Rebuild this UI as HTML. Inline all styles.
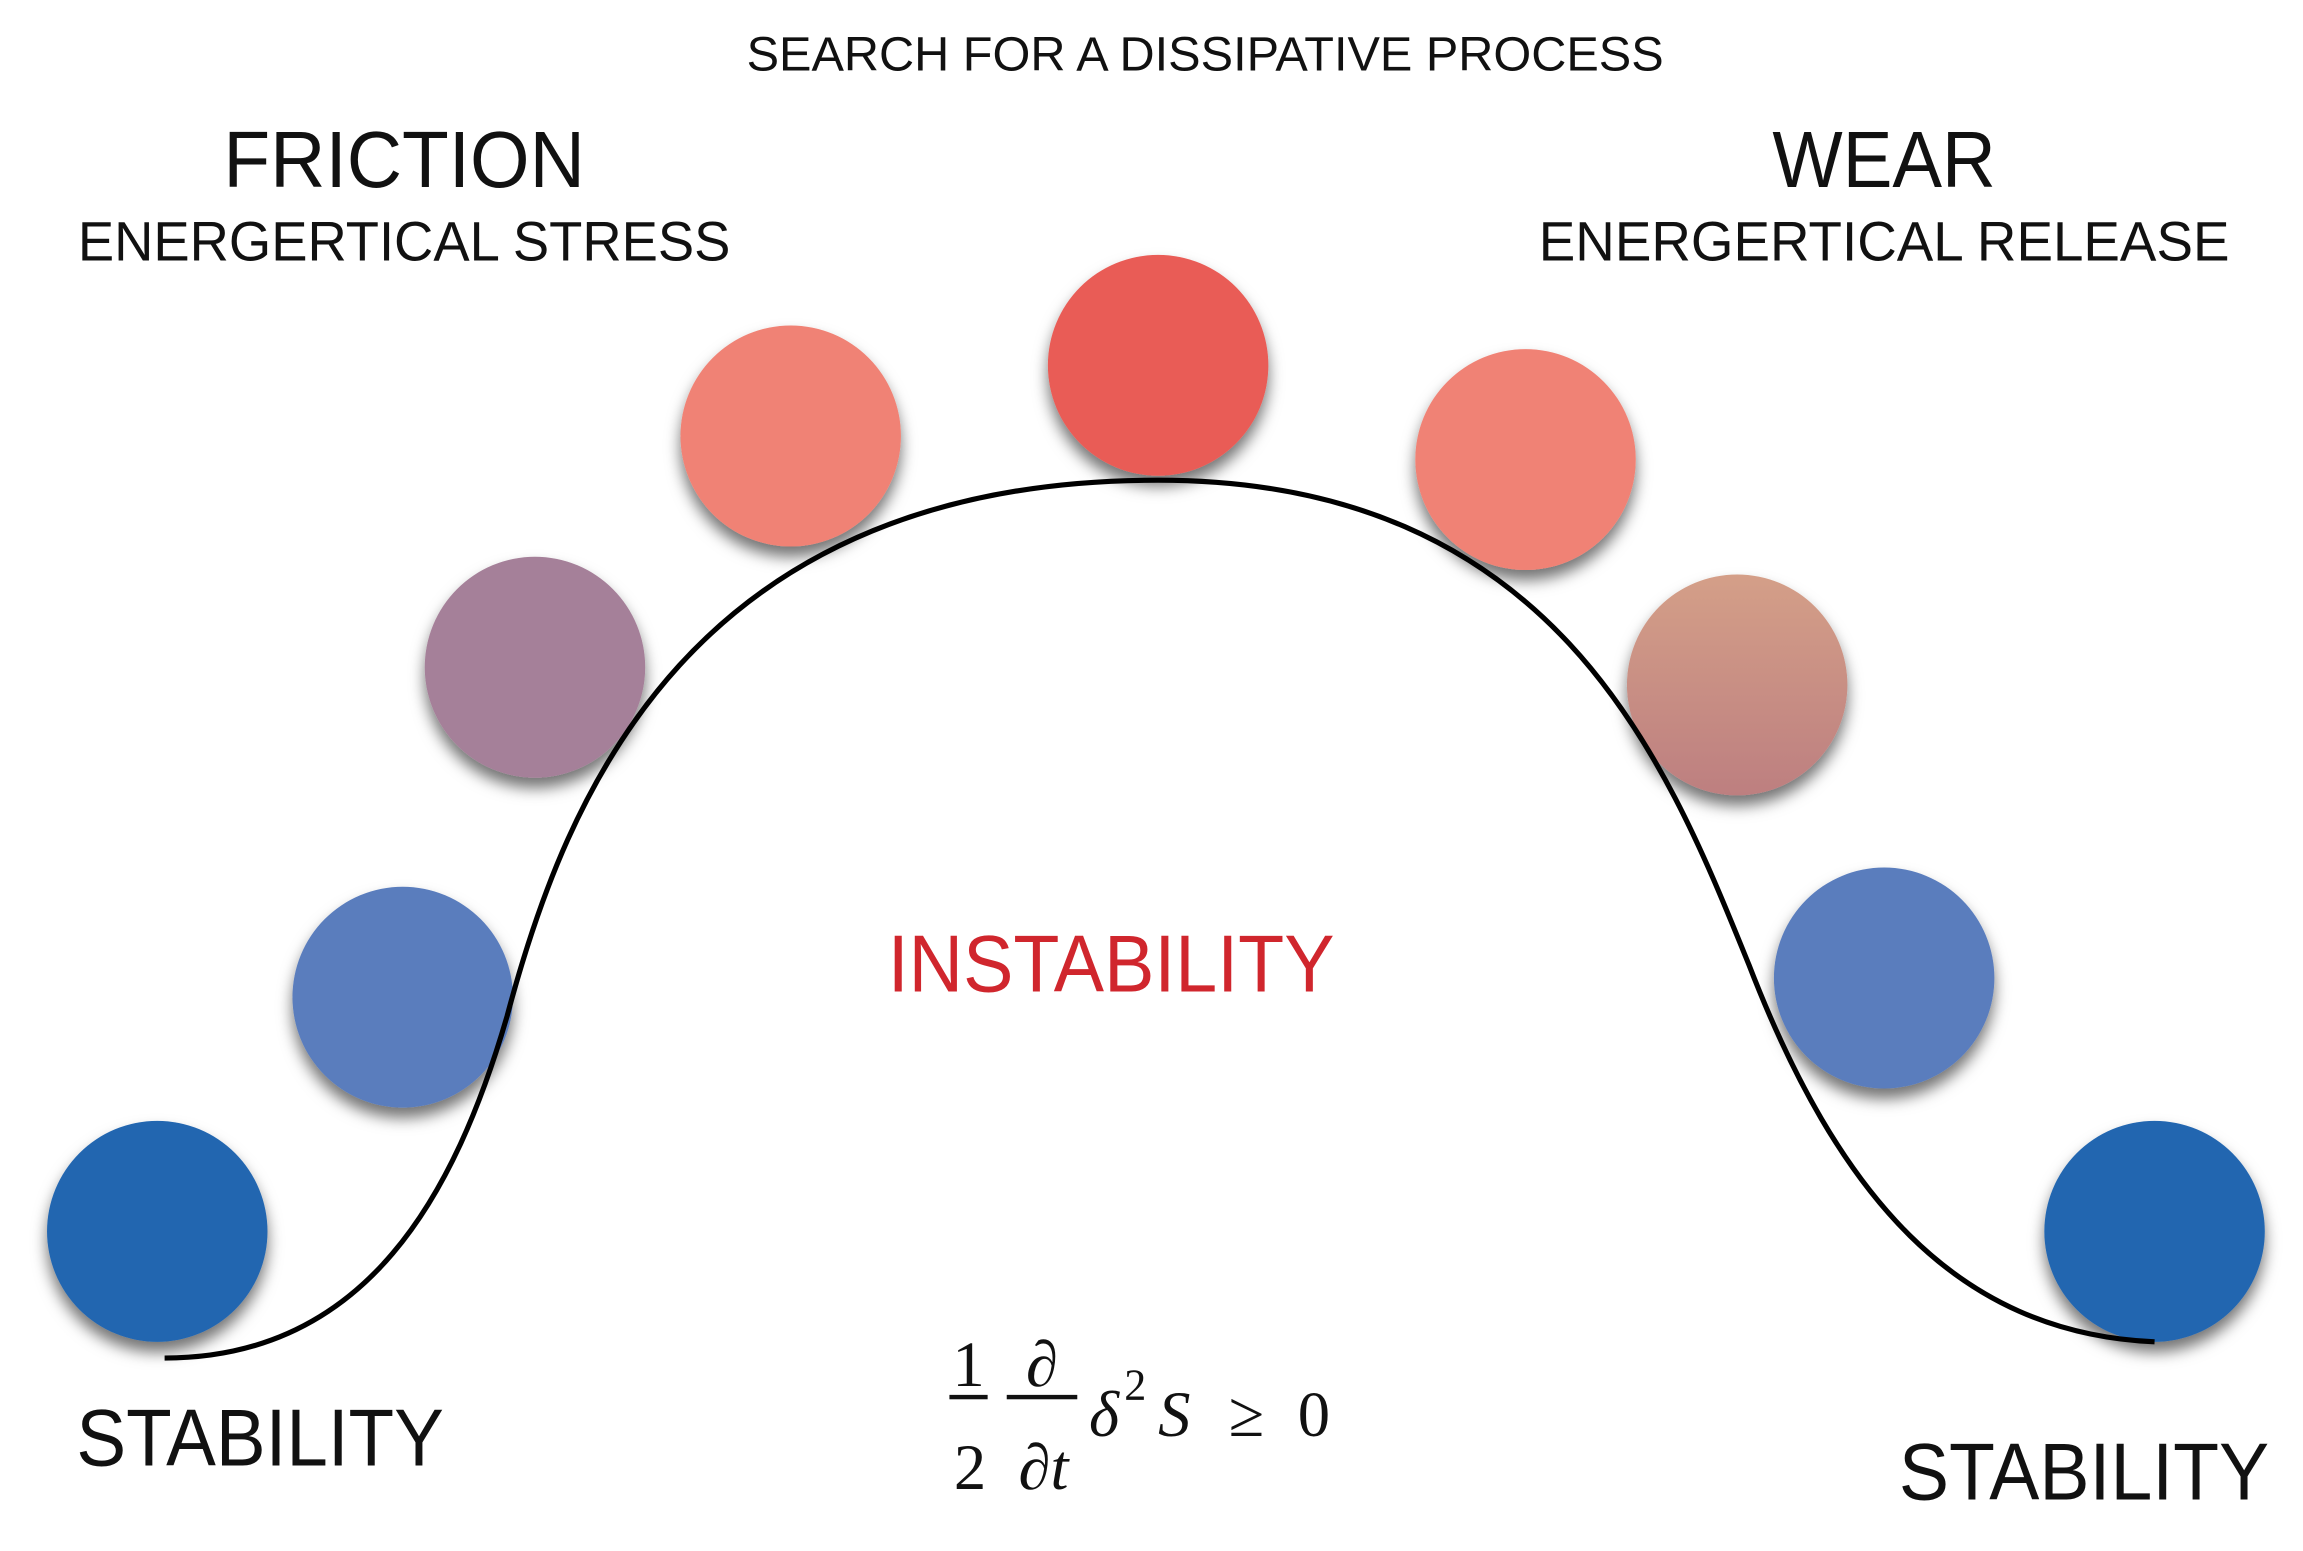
<!DOCTYPE html>
<html><head><meta charset="utf-8"><style>
html,body{margin:0;padding:0;background:#fff;}
svg{display:block;}
.s{font-family:"Liberation Sans",sans-serif;fill:#111;}
.m{font-family:"Liberation Serif",serif;fill:#111;}
</style></head><body>
<svg width="2303" height="1551" viewBox="0 0 1567 1053" preserveAspectRatio="none" xmlns="http://www.w3.org/2000/svg">
<defs>
<filter id="sh" x="-30%" y="-30%" width="160%" height="170%">
<feDropShadow dx="0" dy="7" stdDeviation="5" flood-color="#000" flood-opacity="0.55"/>
</filter>
<linearGradient id="g7" x1="0" y1="0" x2="0" y2="1">
<stop offset="0" stop-color="#d49f88"/><stop offset="1" stop-color="#bd7f80"/>
</linearGradient>
</defs>
<text class="s" x="820" y="48" font-size="33" text-anchor="middle" textLength="624" lengthAdjust="spacingAndGlyphs">SEARCH FOR A DISSIPATIVE PROCESS</text>
<text class="s" x="275" y="127" font-size="54" text-anchor="middle" textLength="246" lengthAdjust="spacingAndGlyphs">FRICTION</text>
<text class="s" x="275" y="177" font-size="38" text-anchor="middle" textLength="444" lengthAdjust="spacingAndGlyphs">ENERGERTICAL STRESS</text>
<text class="s" x="1282" y="127" font-size="54" text-anchor="middle" textLength="152" lengthAdjust="spacingAndGlyphs">WEAR</text>
<text class="s" x="1282" y="177" font-size="38" text-anchor="middle" textLength="470" lengthAdjust="spacingAndGlyphs">ENERGERTICAL RELEASE</text>

<g filter="url(#sh)">
<circle cx="107" cy="836" r="75" fill="#2366b0"/>
<circle cx="274" cy="677" r="75" fill="#5a7dbd"/>
<circle cx="364" cy="453" r="75" fill="#a58099"/>
<circle cx="538" cy="296" r="75" fill="#f08274"/>
<circle cx="788" cy="248" r="75" fill="#e95c56"/>
<circle cx="1038" cy="312" r="75" fill="#f08274"/>
<circle cx="1182" cy="465" r="75" fill="url(#g7)"/>
<circle cx="1282" cy="664" r="75" fill="#5a7dbd"/>
<circle cx="1466" cy="836" r="75" fill="#2366b0"/>
</g>

<path d="M112,922 C250,922 310,810 345,690 C385,540 470,326 788,326 C1060,326 1135,520 1190,655 C1250,810 1330,905 1466,911" fill="none" stroke="#000" stroke-width="3.5"/>

<text x="756" y="673" font-size="55" text-anchor="middle" textLength="304" lengthAdjust="spacingAndGlyphs" fill="#d0262d" font-family="Liberation Sans, sans-serif">INSTABILITY</text>
<text class="s" x="52" y="995" font-size="55" textLength="250" lengthAdjust="spacingAndGlyphs">STABILITY</text>
<text class="s" x="1292" y="1018" font-size="55" textLength="252" lengthAdjust="spacingAndGlyphs">STABILITY</text>

<g class="m">
<text x="659" y="941" font-size="44" text-anchor="middle">1</text>
<rect x="646" y="947" width="26" height="3" fill="#111"/>
<text x="660" y="1011" font-size="44" text-anchor="middle">2</text>
<text x="709" y="941" font-size="44" text-anchor="middle" font-style="italic">∂</text>
<rect x="685" y="947" width="48" height="3" fill="#111"/>
<text x="710" y="1011" font-size="44" text-anchor="middle" font-style="italic">∂t</text>
<text x="741" y="975" font-size="44" font-style="italic">δ</text>
<text x="765" y="950" font-size="30">2</text>
<text x="788" y="975" font-size="44" font-style="italic">S</text>
<text x="836" y="975" font-size="44">≥</text>
<text x="883" y="975" font-size="44">0</text>
</g>
</svg>
</body></html>
